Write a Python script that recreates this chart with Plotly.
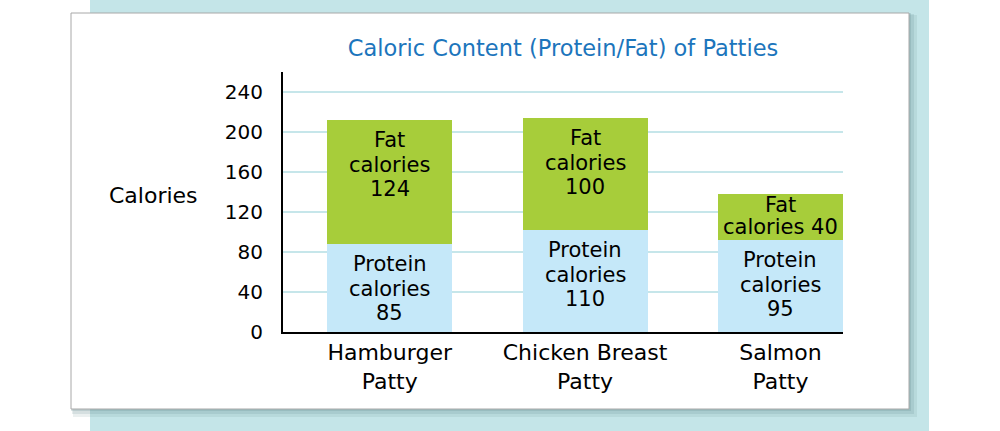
import plotly.graph_objects as go

# values as drawn in the picture (bar heights) and as printed on the bars
categories = ["Hamburger<br>Patty", "Chicken Breast<br>Patty", "Salmon<br>Patty"]
protein_bar = [88, 102, 92]
fat_bar = [124, 112, 46]
protein_text = [["Protein", "calories", "85"], ["Protein", "calories", "110"], ["Protein", "calories", "95"]]
fat_text = [["Fat", "calories", "124"], ["Fat", "calories", "100"], ["Fat", "calories 40"]]
y_ticks = [0, 40, 80, 120, 160, 200, 240]

FONT = "DejaVu Sans"
PROTEIN = "#C5E8F9"
FAT = "#A7CD3A"
GRID = "#C6E6EA"
TEAL = "#C4E5E8"

# plot area in pixels: x 283..843, y 72..332 (1000x431 window)
L, R, T, B = 283, 157, 72, 99
W, H = 1000 - L - R, 431 - T - B


def px(x):
	return (x - L) / W


def py(y):
	return (431 - B - y) / H


fig = go.Figure()
fig.add_trace(go.Bar(x=categories, y=protein_bar, marker_color=PROTEIN,
	marker_line_width=0, name="Protein", hoverinfo="skip"))
fig.add_trace(go.Bar(x=categories, y=fat_bar, marker_color=FAT,
	marker_line_width=0, name="Fat", hoverinfo="skip"))


def label(x, top, lines, first=20, step=24.5):
	# one annotation per line so the line spacing can match the picture
	out = []
	for k, line in enumerate(lines):
		out.append(dict(x=x, y=top, xref="x", yref="y", text=line, showarrow=False,
			yanchor="middle", yshift=-(first + k * step),
			font=dict(family=FONT, size=21, color="black")))
	return out


annotations = []
for i, c in enumerate(categories):
	annotations += label(c, protein_bar[i], protein_text[i])
	if len(fat_text[i]) == 2:
		annotations += label(c, protein_bar[i] + fat_bar[i], fat_text[i], first=11, step=22)
	else:
		annotations += label(c, protein_bar[i] + fat_bar[i], fat_text[i])

annotations.append(dict(x=px(153), y=py(195), xref="paper", yref="paper",
	text="Calories", showarrow=False, xanchor="center", yanchor="middle",
	font=dict(family=FONT, size=22, color="black")))

shapes = [
	# teal backdrop
	dict(type="rect", xref="paper", yref="paper", x0=px(90), x1=px(929), y0=py(0), y1=py(432),
		fillcolor=TEAL, line_width=0, layer="below"),
	# soft card shadow
	dict(type="rect", xref="paper", yref="paper", x0=px(73), x1=px(917), y0=py(15), y1=py(417),
		fillcolor="rgba(90,130,135,0.12)", line_width=0, layer="below"),
	dict(type="rect", xref="paper", yref="paper", x0=px(72), x1=px(914), y0=py(14), y1=py(414),
		fillcolor="rgba(90,130,135,0.15)", line_width=0, layer="below"),
	dict(type="rect", xref="paper", yref="paper", x0=px(71), x1=px(911), y0=py(13), y1=py(411),
		fillcolor="rgba(90,130,135,0.2)", line_width=0, layer="below"),
	# white card
	dict(type="rect", xref="paper", yref="paper", x0=px(71), x1=px(909), y0=py(13), y1=py(409),
		fillcolor="white", line=dict(color="#A8A8A8", width=1), layer="below"),
]

fig.update_layout(
	barmode="stack",
	bargap=0.36,
	showlegend=False,
	width=1000, height=431,
	margin=dict(l=L, r=R, t=T, b=B),
	paper_bgcolor="white",
	plot_bgcolor="rgba(0,0,0,0)",
	# title x/y are in container fractions
	title=dict(text="Caloric Content (Protein/Fat) of Patties", x=563 / 1000, xanchor="center",
		y=1 - 48 / 431, yanchor="middle",
		font=dict(family=FONT, size=22.5, color="#1C75BC")),
	xaxis=dict(range=[-0.546, 2.32], showline=True, linecolor="black", linewidth=2,
		showgrid=False, zeroline=False, ticks="",
		tickfont=dict(family=FONT, size=22, color="black")),
	yaxis=dict(range=[0, 260], tickvals=y_ticks, showline=True, linecolor="black", linewidth=2,
		showgrid=True, gridcolor=GRID, gridwidth=2, zeroline=False, ticks="",
		ticklabelstandoff=14,
		tickfont=dict(family=FONT, size=20, color="black")),
	annotations=annotations,
	shapes=shapes,
)

# page has a default 8px body margin; drop it so the figure sits at the window corner
fig.write_html("out.html", config={"displayModeBar": False},
	post_script="document.body.style.margin='0';")
